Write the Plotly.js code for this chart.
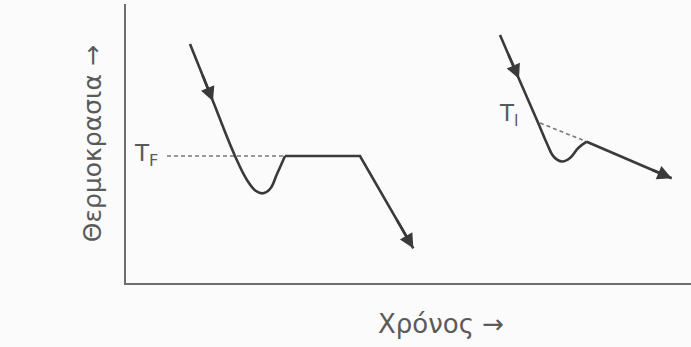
<!DOCTYPE html>
<html>
<head>
<meta charset="utf-8">
<script src="https://cdn.plot.ly/plotly-3.0.1.min.js"></script>
<style>
  html, body { margin: 0; padding: 0; background: #fbfbfb; }
  #chart { width: 691px; height: 347px; }
</style>
</head>
<body>
<div id="chart"></div>
<script>
// Cooling curves: pure substance (left) and alloy (right).
// Time and temperature in arbitrary units.

// Pure substance: fast drop, undercooling dip, freezing plateau at T_F, drop again
const pureDropTime    = [64, 86, 109, 121, 130, 137, 144, 151, 159];
const pureDropTemp    = [239, 184.2, 127, 103, 92, 89.7, 94, 109, 127];
const purePlateauTime = [159, 234, 287.3];
const purePlateauTemp = [127, 127, 34.7];
const freezeLineTime  = [41, 159];
const freezeLineTemp  = [127, 127];

// Alloy: drop, undercooling dip below T_l, slower cooling through the range
const alloyDropTime   = [374, 393, 412.3, 420.7, 428, 436, 444, 452.3, 460.7];
const alloyDropTemp   = [248, 204, 159.7, 140, 126, 121.5, 125, 135, 141.3];
const alloyTailTime   = [460.7, 545.7];
const alloyTailTemp   = [141.3, 104.7];
const liquidusLineTime = [414, 460.7];
const liquidusLineTemp = [160, 141.3];

const curveColor = '#3a3a3a';
const textColor = '#5a5a5a';
const textFont = { family: 'DejaVu Sans, sans-serif', size: 23, color: textColor };

const traces = [
  { x: freezeLineTime, y: freezeLineTemp, mode: 'lines',
    line: { color: '#7a7a7a', width: 1.6, dash: '4px,3px' } },
  { x: liquidusLineTime, y: liquidusLineTemp, mode: 'lines',
    line: { color: '#7a7a7a', width: 1.6, dash: '4px,3px' } },
  { x: pureDropTime, y: pureDropTemp, mode: 'lines',
    line: { color: curveColor, width: 2.6, shape: 'spline', smoothing: 1.2 } },
  { x: purePlateauTime, y: purePlateauTemp, mode: 'lines',
    line: { color: curveColor, width: 2.6 } },
  { x: alloyDropTime, y: alloyDropTemp, mode: 'lines',
    line: { color: curveColor, width: 2.6, shape: 'spline', smoothing: 1.2 } },
  { x: alloyTailTime, y: alloyTailTemp, mode: 'lines',
    line: { color: curveColor, width: 2.6 } }
];

// Point at time t on the straight segment between (x0,y0) and (x1,y1)
function onSegment(x0, y0, x1, y1, t) {
  return [t, y0 + (y1 - y0) * (t - x0) / (x1 - x0)];
}

// Arrowhead with its tip at `tip`, pointing away from `tail`
function arrow(tip, tail) {
  return { x: tip[0], y: tip[1], ax: tail[0], ay: tail[1],
    xref: 'x', yref: 'y', axref: 'x', ayref: 'y', text: '',
    showarrow: true, arrowhead: 2, arrowsize: 1.1, arrowwidth: 2.6,
    arrowcolor: curveColor, standoff: 0, startstandoff: 0 };
}

const P = [pureDropTime[0], pureDropTemp[0], pureDropTime[2], pureDropTemp[2]];
const Q = [purePlateauTime[1], purePlateauTemp[1], purePlateauTime[2], purePlateauTemp[2]];
const A = [alloyDropTime[0], alloyDropTemp[0], alloyDropTime[2], alloyDropTemp[2]];
const B = [alloyTailTime[0], alloyTailTemp[0], alloyTailTime[1], alloyTailTemp[1]];

const annotations = [
  arrow(onSegment(...P, 87), onSegment(...P, 76)),
  arrow([purePlateauTime[2], purePlateauTemp[2]], onSegment(...Q, 270)),
  arrow(onSegment(...A, 393), onSegment(...A, 382)),
  arrow([alloyTailTime[1], alloyTailTemp[1]], onSegment(...B, 525)),
  { x: 20, y: 128, xref: 'x', yref: 'y', text: 'T<sub>F</sub>', showarrow: false,
    font: textFont, xanchor: 'center', yanchor: 'middle' },
  { x: 383, y: 168, xref: 'x', yref: 'y', text: 'T<sub>l</sub>', showarrow: false,
    font: textFont, xanchor: 'center', yanchor: 'middle' },
  { x: -0.060, y: 0.498, xref: 'paper', yref: 'paper', text: 'Θερμοκρασια →', textangle: -90,
    showarrow: false, font: Object.assign({}, textFont, { size: 25 }),
    xanchor: 'center', yanchor: 'middle' },
  { x: 0.558, y: -0.147, xref: 'paper', yref: 'paper', text: 'Χρόνος →', showarrow: false,
    font: Object.assign({}, textFont, { size: 26 }), xanchor: 'center', yanchor: 'middle' }
];

const layout = {
  width: 691, height: 347,
  margin: { l: 126, r: 0, t: 4, b: 64 },
  paper_bgcolor: '#fbfbfb', plot_bgcolor: '#fbfbfb',
  showlegend: false,
  xaxis: { range: [0, 565], showline: true, linecolor: '#6e6e6e', linewidth: 2,
    showgrid: false, zeroline: false, showticklabels: false, ticks: '' },
  yaxis: { range: [0, 279], showline: true, linecolor: '#6e6e6e', linewidth: 2,
    showgrid: false, zeroline: false, showticklabels: false, ticks: '' },
  annotations: annotations
};

Plotly.newPlot('chart', traces, layout, { displayModeBar: false, staticPlot: true });
</script>
</body>
</html>
